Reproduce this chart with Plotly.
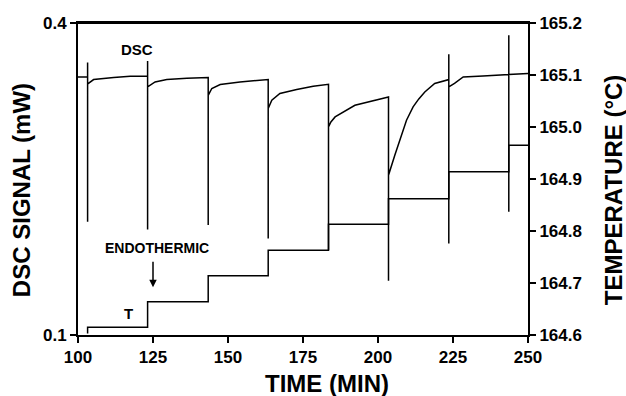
import plotly.graph_objects as go

# ---- Data ----
dsc_time = [100, 103.2, 103.2, 103.2, 103.2,
            103.5, 105.2, 111.9, 117.4, 123.2,
            123.2, 123.2, 123.2,
            125.7, 129.6, 136.3, 143.4,
            143.4, 143.4,
            144.6, 147.4, 154.0, 163.4,
            163.4, 163.4,
            164.6, 167.3, 172.9, 178.4, 183.5,
            183.5, 183.5,
            184.3, 185.7, 192.3, 199.0, 203.5,
            203.5, 203.5,
            205.6, 207.9, 209.5, 211.7, 213.6, 215.6, 218.9, 223.6,
            223.6, 223.6, 223.6,
            225.5, 228.4, 235.0, 243.6,
            243.6, 243.6, 243.6,
            250]
dsc_signal = [0.348, 0.348, 0.362, 0.209, 0.341,
              0.3420, 0.3456, 0.3475, 0.3488, 0.3488,
              0.3635, 0.2015, 0.3385,
              0.3433, 0.3456, 0.3469, 0.3475,
              0.2057, 0.3305,
              0.3370, 0.3408, 0.3433, 0.3456,
              0.1929, 0.3178,
              0.3257, 0.3322, 0.3360, 0.3392, 0.3411,
              0.1817, 0.3001,
              0.3049, 0.3097, 0.3209, 0.3257, 0.3289,
              0.1522, 0.2537,
              0.2729, 0.2938, 0.3065, 0.3193, 0.3270, 0.3337, 0.3418, 0.3456,
              0.3699, 0.1881, 0.3385,
              0.3420, 0.3481, 0.3490, 0.3504,
              0.3882, 0.2184, 0.3504,
              0.3514]

temp_time = [103.2, 103.2, 123.2, 143.4, 163.4, 183.5, 203.5, 223.6, 243.6, 250]
temperature = [164.603, 164.615, 164.664, 164.714, 164.763, 164.813, 164.862, 164.914, 164.965, 164.965]

x_ticks = [100, 125, 150, 175, 200, 225, 250]
y_left_ticks = [0.1, 0.4]
y_right_ticks = [164.6, 164.7, 164.8, 164.9, 165.0, 165.1, 165.2]

FONT = "Arial, Liberation Sans, sans-serif"

fig = go.Figure()
fig.add_trace(go.Scatter(x=dsc_time, y=dsc_signal, mode="lines",
                         line=dict(color="black", width=1.5), yaxis="y",
                         showlegend=False, hoverinfo="skip"))
fig.add_trace(go.Scatter(x=temp_time, y=temperature, mode="lines",
                         line=dict(color="black", width=1.5, shape="hv"), yaxis="y2",
                         showlegend=False, hoverinfo="skip"))

axis_common = dict(showgrid=False, zeroline=False, showline=True, linecolor="black",
                   linewidth=2, ticks="outside", ticklen=6, tickwidth=2, tickcolor="black",
                   tickfont=dict(family=FONT, size=17, color="black", weight="bold"))

fig.update_layout(
    width=626, height=396,
    margin=dict(l=78, r=98, t=23, b=61),
    paper_bgcolor="white", plot_bgcolor="white",
    font=dict(family=FONT, color="black", weight="bold"),
    xaxis=dict(range=[100, 250], tickvals=x_ticks, mirror=True, **axis_common),
    yaxis=dict(range=[0.1, 0.4], tickvals=y_left_ticks, ticktext=["0.1", "0.4"], **axis_common),
    yaxis2=dict(range=[164.6, 165.2], tickvals=y_right_ticks,
                ticktext=[f"{v:.1f}" for v in y_right_ticks],
                overlaying="y", side="right", **axis_common),
    shapes=[dict(type="line", xref="paper", yref="paper", x0=0, x1=1, y0=1, y1=1,
                 line=dict(color="black", width=2))],
    annotations=[
        dict(text="TIME (MIN)", xref="paper", yref="paper", x=(326.5 - 78) / 450, y=-(384 - 335) / 312.3,
             showarrow=False, font=dict(size=24, family=FONT, weight="bold"), xanchor="center", yanchor="middle"),
        dict(text="DSC SIGNAL (mW)", xref="paper", yref="paper", x=(21 - 78) / 450, y=(335 - 190) / 312.3,
             showarrow=False, textangle=-90, font=dict(size=24, family=FONT, weight="bold"),
             xanchor="center", yanchor="middle"),
        dict(text="TEMPERATURE (°C)", xref="paper", yref="paper", x=(613 - 78) / 450, y=(335 - 190) / 312.3,
             showarrow=False, textangle=-90, font=dict(size=24, family=FONT, weight="bold"),
             xanchor="center", yanchor="middle"),
        dict(text="DSC", xref="x", yref="y", x=119.7, y=0.1 + (335 - 49.5) * 0.0009606,
             showarrow=False, font=dict(size=15, family=FONT, weight="bold")),
        dict(text="ENDOTHERMIC", xref="x", yref="y", x=126.3, y=0.1 + (335 - 248) * 0.0009606,
             showarrow=False, font=dict(size=14, family=FONT, weight="bold")),
        dict(text="T", xref="x", yref="y", x=116.9, y=0.1 + (335 - 313.5) * 0.0009606,
             showarrow=False, font=dict(size=15, family=FONT, weight="bold")),
        dict(text="", xref="x", yref="y", x=125.0, y=0.146, ax=0, ay=-27,
             showarrow=True, arrowhead=2, arrowsize=1, arrowwidth=1.5, arrowcolor="black"),
    ],
)

fig.write_html("out.html", config={"displayModeBar": False},
               post_script="document.body.style.margin='0px';document.body.style.padding='0px';")
